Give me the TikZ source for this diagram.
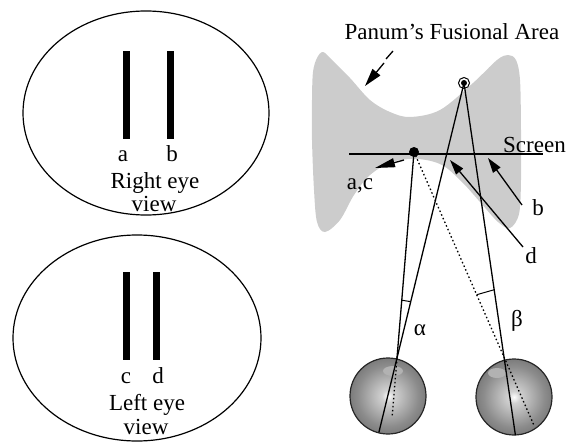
\documentclass[tikz,border=0pt]{standalone}
\usepackage{fontspec}
\setmainfont{Liberation Serif}
\usetikzlibrary{arrows.meta,calc}
\definecolor{fusion}{RGB}{204,204,204}
% eyeball: light centre fading to a dark rim
\pgfdeclareradialshading{eyeball}{\pgfpoint{0bp}{0bp}}{%
  color(0bp)=(white);
  color(4bp)=(black!18);
  color(20bp)=(black!45);
  color(36bp)=(black!65);
  color(46bp)=(black!80);
  color(50bp)=(black!88)}
\begin{document}
\begin{tikzpicture}[x=1pt,y=-1pt,
  lbl/.style={font=\fontsize{23}{23}\selectfont, inner sep=0pt},
  ray/.style={line width=1.3pt},
  dotray/.style={line width=1.3pt, dash pattern=on 1.5pt off 2.5pt},
  pointer/.style={line width=1.3pt, -{Triangle[length=15pt,width=9pt]}},
  viewfield/.style={draw, line width=1.2pt},
  bar/.style={fill=black},
  eyeball/.style={circle, shading=eyeball, draw=black!85, line width=1.2pt,
    minimum size=76pt, inner sep=0pt},
  lens/.style={fill=black!30}]
\useasboundingbox (0,0) rectangle (566,442);

% ---- left: what each eye sees ----
\draw[viewfield] (146,113) ellipse [x radius=123, y radius=102];
\fill[bar] (123,51) rectangle (130,139);
\fill[bar] (167,51) rectangle (174,139);
\node[lbl, anchor=base] (la) at (123,161) {a};
\node[lbl, anchor=base] (lb) at (172,161) {b};
\node[lbl, anchor=base] (rview1) at (155,188) {Right eye};
\node[lbl, anchor=base] (rview2) at (154,211) {view};

\draw[viewfield] (137,338) ellipse [x radius=124, y radius=103];
\fill[bar] (123,272) rectangle (130,360);
\fill[bar] (153,272) rectangle (160,360);
\node[lbl, anchor=base] (lc) at (126,383) {c};
\node[lbl, anchor=base] (ld) at (158,383) {d};
\node[lbl, anchor=base] (lview1) at (147,410) {Left eye};
\node[lbl, anchor=base] (lview2) at (146,434) {view};

% ---- right: Panum's fusional area ----
\fill[fusion] plot[smooth cycle, tension=0.55] coordinates {
  (313,72) (317,58) (323,52) (332,60) (350,78) (370,100) (390,112) (410,117)
  (440,110) (473,83) (497,60) (508,55) (516,60) (520,80) (521,130) (521,180)
  (519,214) (510,228) (498,222) (480,202) (462,182) (442,165) (418,159)
  (392,162) (370,175) (354,195) (340,220) (325,232) (317,222) (314,190)
  (312,140) (312,100)};

\node[lbl, anchor=base] (panum) at (452,39) {Panum's Fusional Area};
\coordinate (pa1) at (393,51);
\coordinate (pa2) at (386,59);
\coordinate (pa3) at (384,63);
\coordinate (pa4) at (365,86);
\draw[line width=1.3pt] (pa1) -- (pa2);
\draw[line width=1.3pt, -{Triangle[length=18pt,width=10pt]}] (pa3) -- (pa4);

% screen
\coordinate (scr1) at (349,154);
\coordinate (scr2) at (543,154);
\draw[line width=1.5pt] (scr1) -- (scr2);
\node[lbl, anchor=base west] (screen) at (503,152) {Screen};

% eyes
\node[eyeball] (eyeL) at (388,396) {};
\node[eyeball] (eyeR) at (514,397) {};
\fill[lens] (393,371) ellipse [x radius=10, y radius=5];
\fill[lens] (497,373) ellipse [x radius=9, y radius=5];

% points in space
\node[circle, fill=black, minimum size=10pt, inner sep=0pt] (S) at (414,152) {};
\node[circle, draw, line width=1pt, minimum size=11pt, inner sep=0pt] (T) at (464,83) {};
\fill (T.center) circle (3);

% lines of sight
\coordinate (L) at (397,358);
\coordinate (R) at (504,357);
\draw[ray] (T.center) -- ($(T)!1.27!(L)$);
\draw[ray] (S.center) -- (L);
\draw[dotray] (L) -- ($(S)!1.28!(L)$);
\draw[ray] (T.center) -- ($(T)!1.285!(R)$);
\draw[dotray] (S.center) -- ($(S)!1.33!(R)$);

% disparity angles
\draw[line width=1pt] ($(L)!58pt!(S)$) -- ($(L)!58pt!(T)$);
\draw[line width=1pt] ($(R)!68pt!(S)$) -- ($(R)!68pt!(T)$);
\node[lbl, anchor=base] (alpha) at (420,335) {α};
\node[lbl] (beta) at (517,321) {β};

% labelled pointers
\node[lbl, anchor=base] (ac) at (360,189) {a,c};
\coordinate (acT) at (404,160);
\coordinate (acH) at (375,168);
\draw[line width=1.3pt, -{Triangle[length=20pt,width=9pt]}] (acT) -- (acH);

\node[lbl, anchor=base] (lbb) at (538,215) {b};
\coordinate (bT) at (522,205);
\coordinate (bH) at (488,158);
\draw[pointer] (bT) -- (bH);

\node[lbl, anchor=base] (lbd) at (531,263) {d};
\coordinate (dT) at (523,247);
\coordinate (dH) at (450,160);
\draw[pointer] (dT) -- (dH);
\end{tikzpicture}
\end{document}
